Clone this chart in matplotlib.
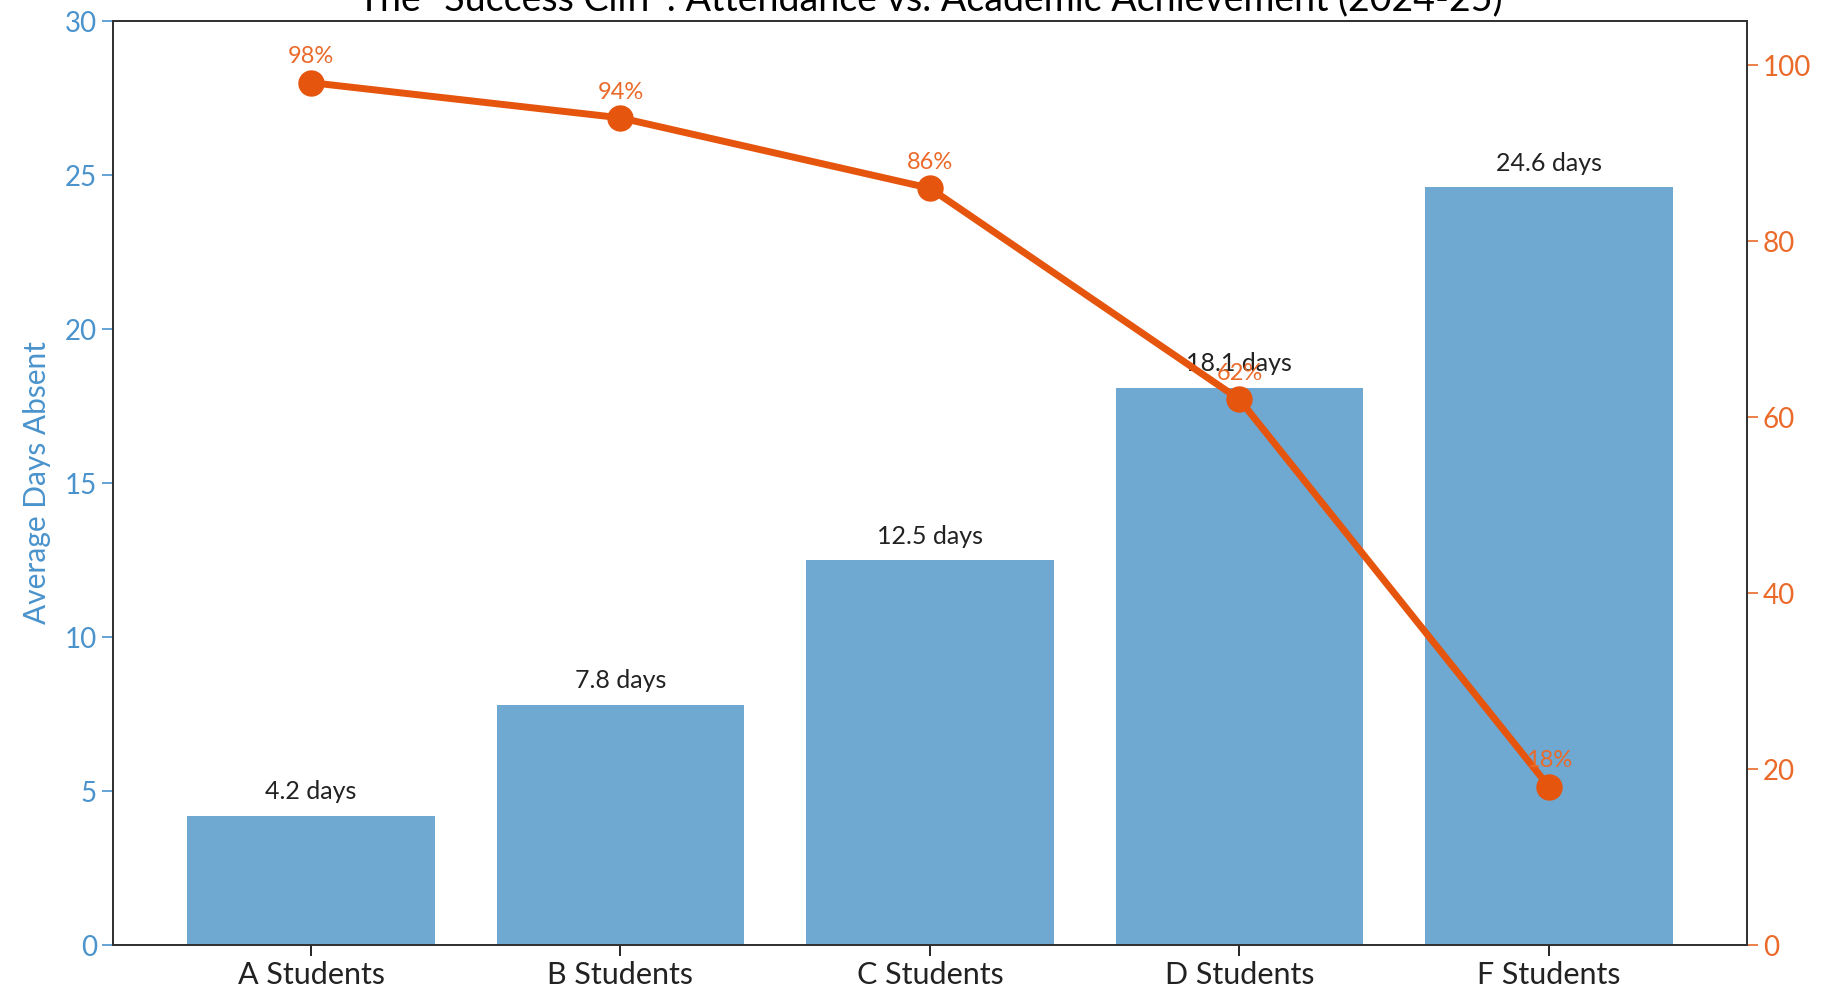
import matplotlib.pyplot as plt

# Attendance vs. grade data for the 2024-25 school year
groups = ['A Students', 'B Students', 'C Students', 'D Students', 'F Students']
days_absent = [4.2, 7.8, 12.5, 18.1, 24.6]
pass_rate = [98, 94, 86, 62, 18]

bar_color = '#6fa8d0'
line_color = '#e6550d'
axis_blue = '#4a93cc'
axis_orange = '#ea6a2a'

plt.rcParams['font.family'] = ['Lato', 'DejaVu Sans']

fig = plt.figure(figsize=(18.22, 9.88), dpi=100)
ax = fig.add_axes([0.062, 0.0435, 0.8968, 0.9352])

bars = ax.bar(groups, days_absent, width=0.8, color=bar_color)
ax.set_ylim(0, 30)
ax.set_ylabel('Average Days Absent', color=axis_blue, fontsize=21.5, labelpad=10)
ax.tick_params(axis='y', colors=axis_blue, labelsize=20, length=8, width=1.2)
ax.tick_params(axis='x', labelsize=22, length=8, width=1.2)
for lbl in ax.get_xticklabels():
    lbl.set_color('#222222')

for rect, v in zip(bars, days_absent):
    ax.annotate(f'{v} days', (rect.get_x() + rect.get_width() / 2, v),
                xytext=(0, 9), textcoords='offset points',
                ha='center', va='bottom', fontsize=18, color='#222222')

ax2 = ax.twinx()
ax2.plot(groups, pass_rate, color=line_color, linewidth=5,
         marker='o', markersize=18)
ax2.set_ylim(0, 105)
ax2.tick_params(axis='y', colors=axis_orange, labelsize=20, length=8, width=1.2)
for i, p in enumerate(pass_rate):
    ax2.annotate(f'{p}%', (i, p), xytext=(0, 11), textcoords='offset points',
                 ha='center', va='bottom', fontsize=17, color=axis_orange)

for a in (ax, ax2):
    for s in a.spines.values():
        s.set_color('#333333')
        s.set_linewidth(1.4)

ax.set_title('The "Success Cliff": Attendance vs. Academic Achievement (2024-25)',
             fontsize=27, pad=8)

fig.savefig('out.png', dpi=100)
